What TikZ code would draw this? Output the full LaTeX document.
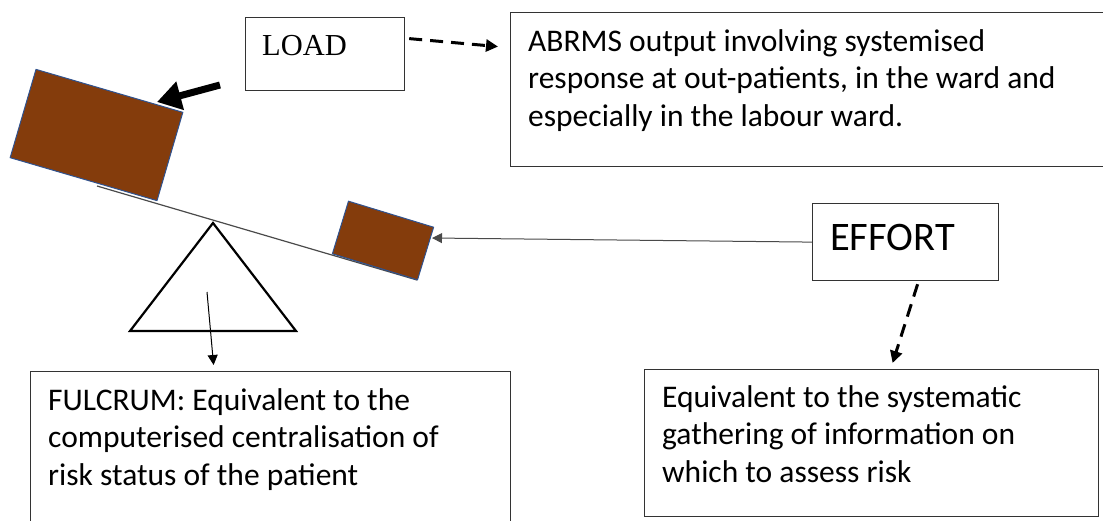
\documentclass[tikz,border=0pt]{standalone}
\usepackage{fontspec}
\setmainfont{Carlito}
\newfontfamily\serifload{Liberation Serif}
\usetikzlibrary{arrows.meta,calc}
\definecolor{brownfill}{HTML}{843C0C}
\definecolor{blueedge}{HTML}{2F528F}
\definecolor{boxline}{HTML}{333333}
\definecolor{levercol}{HTML}{4A4A4A}
\begin{document}
\begin{tikzpicture}[x=1pt,y=-1pt,
  box/.style={draw=boxline, line width=1.2pt, inner sep=0pt, anchor=north west},
  txt/.style={anchor=base west, align=left, inner sep=0pt, font=\fontsize{31.5}{37.5}\selectfont},
  weight/.style={fill=brownfill, draw=blueedge, line width=1pt, inner sep=0pt},
  dasharrow/.style={line width=3pt, dash pattern=on 13pt off 8pt, -{Triangle[length=12pt,width=12pt]}},
  thinarrow/.style={line width=1pt, -{Triangle[length=10pt,width=10pt]}},
]
\useasboundingbox (0,0) rectangle (1103,520);
% boxes
\node[box, minimum width=600pt, minimum height=154pt] (abrms) at (510,12) {};
\node[box, minimum width=159pt, minimum height=73pt] (load) at (245,17) {};
\node[box, minimum width=186pt, minimum height=77pt] (effort) at (812,203) {};
\node[box, minimum width=480pt, minimum height=170pt] (fleft) at (30,371) {};
\node[box, minimum width=454pt, minimum height=147pt] (fright) at (644,369) {};
% texts (anchored at the baseline of the last line)
\node[txt] (abrmstxt) at (528,126) {ABRMS output involving systemised\\response at out-patients, in the ward and\\especially in the labour ward.};
\node[txt] (fltxt) at (48,485) {FULCRUM: Equivalent to the\\computerised centralisation of\\risk status of the patient};
\node[txt] (frtxt) at (662,482) {Equivalent to the systematic\\gathering of information on\\which to assess risk};
\node[anchor=base west, inner sep=0pt, font=\serifload\fontsize{30.5}{36}\selectfont] (loadtxt) at (262,55) {LOAD};
\node[anchor=base west, inner sep=0pt, font=\fontsize{40.5}{48}\selectfont] (efforttxt) at (830,250) {EFFORT};
% lever
\coordinate (ll) at (97,186);
\coordinate (lr) at (417,280);
\draw[levercol, line width=1.2pt] (ll) -- (lr);
% weights
\node[weight, minimum width=153pt, minimum height=92pt, rotate=-16.3] (big) at (96.5,135) {};
\node[weight, minimum width=89pt, minimum height=55pt, rotate=-17] (small) at (383,240.5) {};
% fulcrum triangle
\coordinate (apex) at (213,223);
\coordinate (tl) at (130,331);
\coordinate (tr) at (296,331);
\draw[line width=2.2pt, line join=miter] (apex) -- (tl) -- (tr) -- cycle;
% arrows
\coordinate (ltail) at (220,85);
\coordinate (ltip) at (157,102);
\draw[line width=7pt, -{Triangle[length=24pt,width=28pt]}] (ltail) -- (ltip);
\draw[dasharrow] ([xshift=4pt,yshift=15.5pt]load.east) -- ([xshift=-12pt,yshift=43pt]abrms.west);
\coordinate (etip) at (432,238);
\draw[thinarrow, draw=levercol] (effort.west) -- (etip);
\draw[dasharrow] ([xshift=12pt,yshift=-3pt]effort.south) -- ([xshift=21pt,yshift=6pt]fright.north);
\coordinate (fpt) at (207,292);
\draw[thinarrow] (fpt) -- ([xshift=-57pt,yshift=6pt]fleft.north);
\end{tikzpicture}
\end{document}
